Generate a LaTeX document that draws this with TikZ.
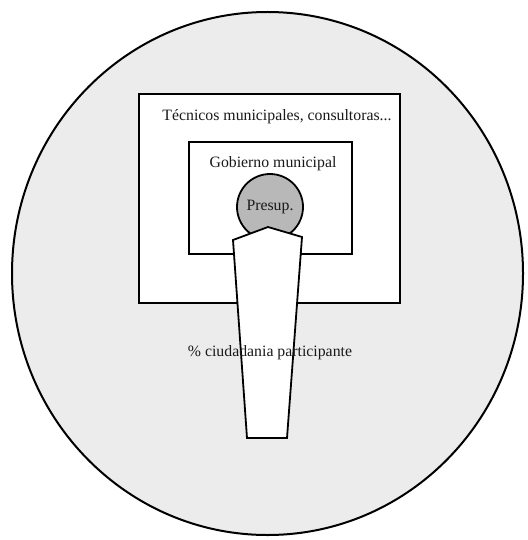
\documentclass[tikz,border=0pt]{standalone}
\usepackage{fontspec}
\setmainfont{Liberation Serif}
\usetikzlibrary{shapes.geometric}
\definecolor{bgcirc}{HTML}{ECECEC}
\definecolor{presupfill}{HTML}{B8B8B8}
\begin{document}
\begin{tikzpicture}[x=1pt,y=-1pt,
  frame/.style={draw=black,line width=1.8pt,fill=white,rectangle,inner sep=0pt},
  lbl/.style={font=\fontsize{15.8}{18}\selectfont,text=black!90,inner sep=0pt}]
\useasboundingbox (0,0) rectangle (527,540);
\node[draw=black,line width=2pt,fill=bgcirc,ellipse,inner sep=0pt,minimum width=511pt,minimum height=523pt] (world) at (267.5,273.5) {};
\node[frame,minimum width=261pt,minimum height=209pt] (tech) at (269.5,198.5) {};
\node[lbl] (techlbl) at (277,117) {Técnicos municipales, consultoras...};
\node[frame,minimum width=163pt,minimum height=112pt] (gov) at (270.5,198) {};
\node[lbl] (govlbl) at (273,164) {Gobierno municipal};
\node[draw=black,line width=1.8pt,fill=presupfill,circle,inner sep=0pt,minimum size=66pt] (presup) at (270,207) {};
\node[lbl] (presuplbl) at (270,207) {Presup.};
\draw[line width=1.8pt,fill=white,line join=miter] (233,240) -- (268,227) -- (302,237) -- (287,438) -- (247,438) -- cycle;
\node[lbl] (citlbl) at (270,353) {\% ciudadania participante};
\end{tikzpicture}
\end{document}
